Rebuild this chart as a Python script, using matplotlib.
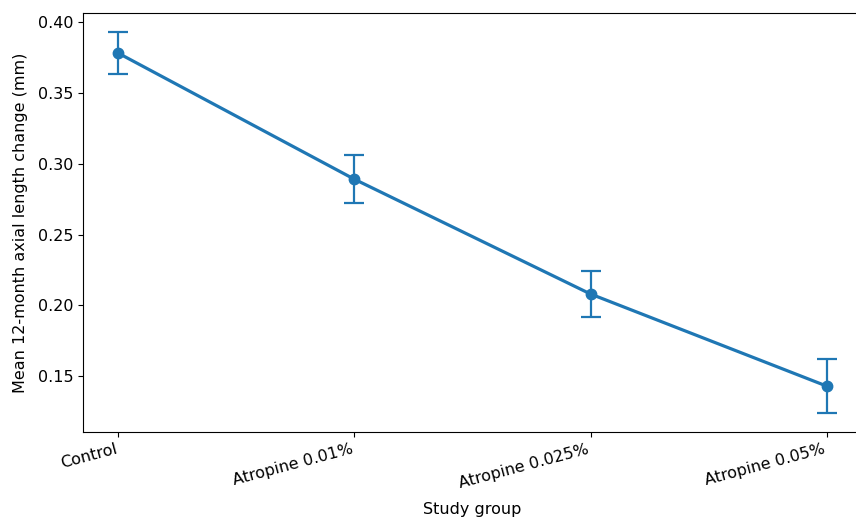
import matplotlib
matplotlib.use('Agg')
import matplotlib.pyplot as plt

# Study groups and mean 12-month axial length change
groups = ['Control', 'Atropine 0.01%', 'Atropine 0.025%', 'Atropine 0.05%']
mean_change = [0.378, 0.289, 0.208, 0.143]
err = [0.015, 0.017, 0.016, 0.019]

plt.rcParams['font.size'] = 11.5

fig = plt.figure(figsize=(8.56, 5.18), dpi=100)
ax = fig.add_axes([0.097, 0.166, 0.91, 0.809])

ax.errorbar(groups, mean_change, yerr=err, fmt='-o', color='#1f77b4',
            linewidth=2.3, markersize=7.5, capsize=7, elinewidth=1.6, capthick=1.6)

ax.set_xlabel('Study group', labelpad=8)
ax.set_ylabel('Mean 12-month axial length change (mm)', labelpad=7)

plt.setp(ax.get_xticklabels(), rotation=15, ha='right')

fig.savefig('out.png', dpi=100)
